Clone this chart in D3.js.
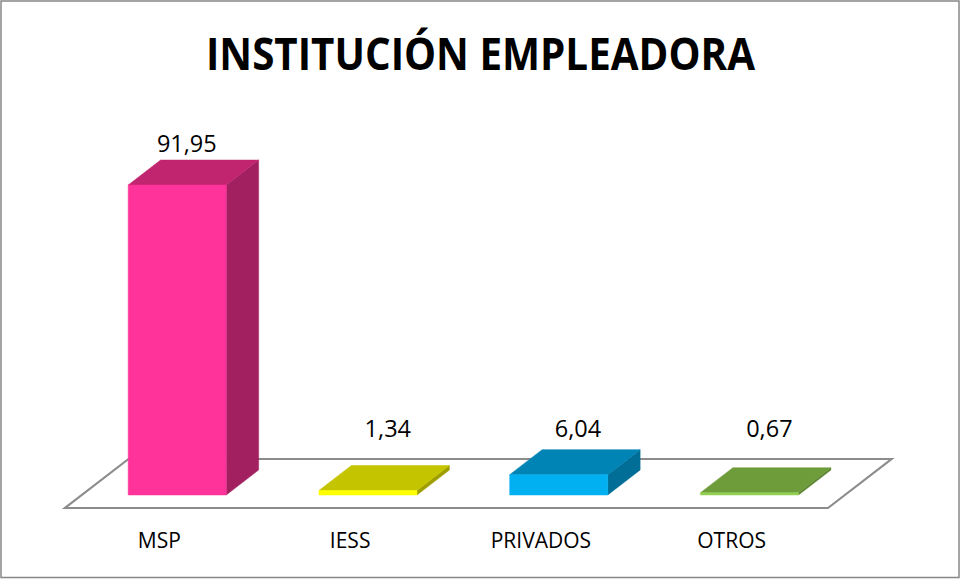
<!DOCTYPE html>
<html><head><meta charset="utf-8">
<script src="https://cdn.jsdelivr.net/npm/d3@7"></script>
<style>body{margin:0;background:#fff}svg{display:block}</style>
</head><body>
<svg id="chart" width="960" height="579"></svg>
<script>
const categories = ["MSP", "IESS", "PRIVADOS", "OTROS"];
const values = [91.95, 1.34, 6.04, 0.67];
const valueLabels = ["91,95", "1,34", "6,04", "0,67"];
const title = "INSTITUCIÓN EMPLEADORA";
const frontColors = ["#FF3399", "#FFFF00", "#00B0F0", "#92D050"];
const topColors   = ["#C1256F", "#C4C400", "#0084B5", "#6E9C3B"];
const sideColors  = ["#A32060", "#9E9E00", "#006E97", "#5A8230"];

const svg = d3.select("#chart");
const W = 960, H = 579;

// frame
svg.append("rect").attr("x", 1).attr("y", 1).attr("width", W - 2).attr("height", H - 2.5)
  .attr("fill", "#fff").attr("stroke", "#878787").attr("stroke-width", 1.5);

// title
svg.append("text").attr("x", 480.5).attr("y", 70).attr("text-anchor", "middle")
  .attr("font-family", "Open Sans").attr("font-weight", "bold").attr("font-size", 45)
  .attr("textLength", 549).attr("lengthAdjust", "spacingAndGlyphs")
  .attr("fill", "#000").text(title);

// 3D geometry
const floorLeft = 65, floorRight = 828, floorFrontY = 508;
const depthDX = 63.5, depthDY = -49;
const x = d3.scaleBand().domain(categories).range([floorLeft, floorRight])
  .paddingInner(0.486).paddingOuter(0.243);
const xCat = d3.scaleBand().domain(categories).range([floorLeft, floorRight]);
const y = d3.scaleLinear().domain([0, 100]).range([0, 337.1]);
const labelShift = d3.scaleLinear().domain([0, 100]).range([20, 8.7]);
const dFront = 13 / 49, dBack = 38 / 49;
const proj = (px, h, d) => [px + d * depthDX, floorFrontY - h + d * depthDY];

// floor
const floorPts = [proj(floorLeft, 0, 0), proj(floorRight, 0, 0), proj(floorRight, 0, 1), proj(floorLeft, 0, 1)];
svg.append("polygon").attr("points", floorPts.map(p => p.join(",")).join(" "))
  .attr("fill", "#fff").attr("stroke", "#8c8c8c").attr("stroke-width", 2.2);

// bars
const data = categories.map((c, i) => ({c, v: values[i], label: valueLabels[i], i}));
const g = svg.append("g");
data.forEach(d => {
  const x0 = x(d.c), x1 = x0 + x.bandwidth();
  const hb = 0, ht = y(d.v);
  const f = [proj(x0, hb, dFront), proj(x1, hb, dFront), proj(x1, ht, dFront), proj(x0, ht, dFront)];
  const side = [proj(x1, hb, dFront), proj(x1, hb, dBack), proj(x1, ht, dBack), proj(x1, ht, dFront)];
  const top = [proj(x0, ht, dFront), proj(x1, ht, dFront), proj(x1, ht, dBack), proj(x0, ht, dBack)];
  const pts = a => a.map(p => p.join(",")).join(" ");
  g.append("polygon").attr("points", pts(side)).attr("fill", sideColors[d.i])
    .attr("stroke", sideColors[d.i]).attr("stroke-width", 0.5);
  g.append("polygon").attr("points", pts(top)).attr("fill", topColors[d.i])
    .attr("stroke", topColors[d.i]).attr("stroke-width", 0.5);
  g.append("polygon").attr("points", pts(f)).attr("fill", frontColors[d.i])
    .attr("stroke", frontColors[d.i]).attr("stroke-width", 0.5);
  // value label
  const frontCenter = (x0 + x1) / 2 + dFront * depthDX;
  const topFrontY = proj(x0, ht, dFront)[1];
  const baseY = proj(x0, 0, dFront)[1];
  const ly = Math.min(topFrontY - 33, baseY - 58);
  svg.append("text").attr("x", frontCenter + labelShift(d.v)).attr("y", ly).attr("text-anchor", "middle")
    .attr("font-family", "Open Sans").attr("font-size", 23.5).attr("fill", "#000")
    .text(d.label);
});

// category labels
categories.forEach(c => {
  svg.append("text").attr("x", xCat(c) + xCat.bandwidth() / 2 - 1).attr("y", 548)
    .attr("text-anchor", "middle").attr("font-family", "Open Sans").attr("font-size", 21)
    .attr("fill", "#000").text(c);
});
</script>
</body></html>
